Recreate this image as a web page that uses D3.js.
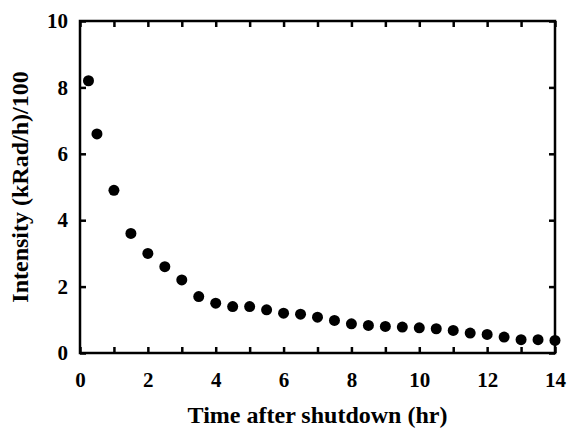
<!DOCTYPE html>
<html>
<head>
<meta charset="utf-8">
<script src="https://cdn.jsdelivr.net/npm/d3@7"></script>
<style>
  body { margin: 0; background: #fff; }
  text { font-family: "Times New Roman", "Liberation Serif", serif; font-weight: bold; }
</style>
</head>
<body>
<svg id="chart"></svg>
<script>
// Decay of intensity after shutdown

const timeHr = [0.25, 0.5, 1, 1.5, 2, 2.5, 3, 3.5, 4, 4.5, 5, 5.5, 6, 6.5, 7, 7.5,
    8, 8.5, 9, 9.5, 10, 10.5, 11, 11.5, 12, 12.5, 13, 13.5, 14];
const intensity = [8.2, 6.6, 4.9, 3.6, 3.0, 2.6, 2.2, 1.7, 1.5, 1.4, 1.4, 1.3, 1.2, 1.17, 1.08, 0.98,
    0.88, 0.83, 0.8, 0.78, 0.76, 0.73, 0.68, 0.6, 0.56, 0.48, 0.4, 0.4, 0.38];
const xTickLabels = [0, 2, 4, 6, 8, 10, 12, 14];
const yTickLabels = [0, 2, 4, 6, 8, 10];

const data = timeHr.map((t, i) => ({ t: t, v: intensity[i] }));

const width = 568, height = 429;
const margin = { top: 21, right: 13, bottom: 76, left: 80 };
const w = width - margin.left - margin.right;
const h = height - margin.top - margin.bottom;

const svg = d3.select("#chart")
    .attr("width", width)
    .attr("height", height);

const g = svg.append("g")
    .attr("transform", `translate(${margin.left},${margin.top})`);

const x = d3.scaleLinear().domain([0, 14]).range([0, w]);
const y = d3.scaleLinear().domain([0, 10]).range([h, 0]);

const minorX = d3.range(0, 15, 1);

// axes - ticks point inward
const styleAxis = sel => {
    sel.select(".domain").remove();
    sel.selectAll(".tick line").attr("stroke", "#000").attr("stroke-width", 2.5);
    sel.selectAll(".tick text").style("font-size", "21px").attr("fill", "#000");
};

g.append("g")
    .attr("transform", `translate(0,${h})`)
    .call(d3.axisBottom(x).tickValues(minorX).tickSizeInner(-6).tickSizeOuter(0)
        .tickPadding(19).tickFormat(d => xTickLabels.includes(d) ? d : ""))
    .call(styleAxis);

g.append("g")
    .call(d3.axisTop(x).tickValues(minorX).tickSizeInner(-6).tickSizeOuter(0).tickFormat(""))
    .call(styleAxis);

g.append("g")
    .call(d3.axisLeft(y).tickValues(yTickLabels).tickSizeInner(-6).tickSizeOuter(0)
        .tickPadding(12))
    .call(styleAxis);

g.append("g")
    .attr("transform", `translate(${w},0)`)
    .call(d3.axisRight(y).tickValues(yTickLabels).tickSizeInner(-6).tickSizeOuter(0).tickFormat(""))
    .call(styleAxis);

// frame
g.append("rect")
    .attr("width", w)
    .attr("height", h)
    .attr("fill", "none")
    .attr("stroke", "#000")
    .attr("stroke-width", 2.5);

// points
g.selectAll(".dot")
    .data(data)
    .join("circle")
    .attr("class", "dot")
    .attr("cx", d => x(d.t))
    .attr("cy", d => y(d.v))
    .attr("r", 5.5)
    .attr("fill", "#000");

// axis titles
g.append("text")
    .attr("x", w / 2)
    .attr("y", h + 70)
    .attr("text-anchor", "middle")
    .style("font-size", "24px")
    .text("Time after shutdown (hr)");

g.append("text")
    .attr("transform", "rotate(-90)")
    .attr("x", -h / 2)
    .attr("y", -52)
    .attr("text-anchor", "middle")
    .style("font-size", "24px")
    .text("Intensity (kRad/h)/100");
</script>
</body>
</html>
